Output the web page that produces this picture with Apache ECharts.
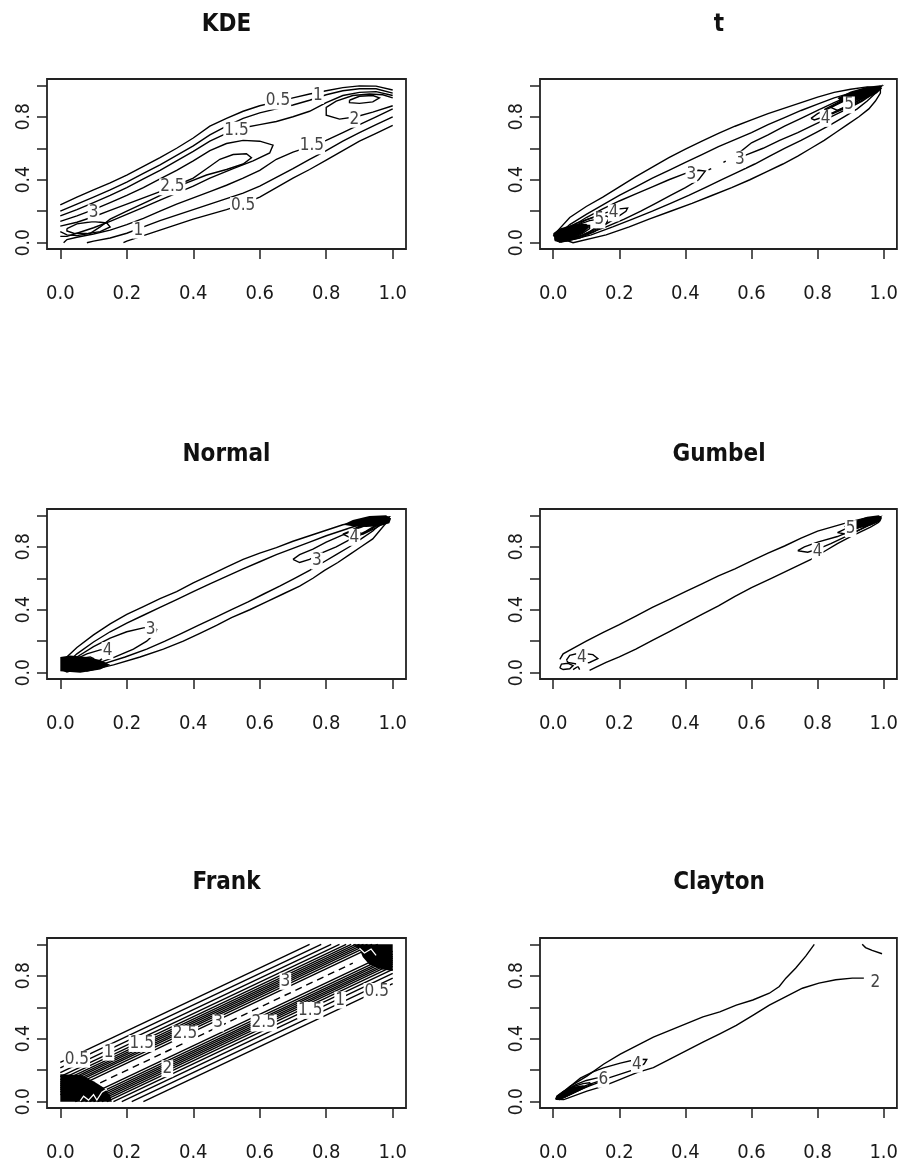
<!DOCTYPE html>
<html>
<head>
<meta charset="utf-8">
<script src="https://cdn.jsdelivr.net/npm/echarts@6.0.0/dist/echarts.min.js"></script>
<style>
  html, body { margin: 0; padding: 0; background: #fff; }
  #chart { width: 901px; height: 1169px; }
</style>
</head>
<body>
<div id="chart"></div>
<script>
const TITLES = ['KDE', 't', 'Normal', 'Gumbel', 'Frank', 'Clayton'];
const X_TICKS = [0, 0.2, 0.4, 0.6, 0.8, 1.0];
const Y_TICKS = [0, 0.2, 0.4, 0.6, 0.8, 1.0];
const Y_LABELS = [0, 0.4, 0.8];

// ---- KDE ----
const kdeLines = [
  [[0,0.24],[0.05,0.29],[0.1,0.335],[0.15,0.38],[0.2,0.43],[0.25,0.485],[0.3,0.54],[0.35,0.6],[0.4,0.665],[0.45,0.74],[0.5,0.79],[0.55,0.835],[0.6,0.87],[0.65,0.895],[0.7,0.92],[0.75,0.945],[0.8,0.965],[0.85,0.985],[0.9,0.996],[0.95,0.995],[1,0.97]],
  [[1,0.745],[0.95,0.695],[0.9,0.645],[0.85,0.585],[0.8,0.525],[0.75,0.465],[0.7,0.41],[0.65,0.35],[0.6,0.29],[0.55,0.245],[0.5,0.21],[0.45,0.18],[0.4,0.15],[0.35,0.115],[0.3,0.08],[0.25,0.045],[0.2,0.01],[0.19,0]],
  [[0,0.2],[0.05,0.245],[0.1,0.29],[0.15,0.335],[0.2,0.385],[0.25,0.44],[0.3,0.495],[0.35,0.555],[0.4,0.615],[0.45,0.685],[0.5,0.74],[0.55,0.79],[0.6,0.825],[0.65,0.85],[0.7,0.875],[0.75,0.905],[0.8,0.94],[0.85,0.965],[0.9,0.978],[0.95,0.978],[1,0.95]],
  [[1,0.8],[0.95,0.75],[0.9,0.7],[0.85,0.645],[0.8,0.585],[0.75,0.53],[0.7,0.47],[0.65,0.415],[0.6,0.36],[0.55,0.315],[0.5,0.28],[0.45,0.245],[0.4,0.21],[0.35,0.175],[0.3,0.14],[0.25,0.1],[0.2,0.06],[0.15,0.03],[0.1,0.01],[0.08,0]],
  [[0,0.17],[0.05,0.21],[0.1,0.255],[0.15,0.3],[0.2,0.35],[0.25,0.405],[0.3,0.46],[0.35,0.52],[0.4,0.58],[0.45,0.645],[0.5,0.695],[0.55,0.73],[0.6,0.75],[0.65,0.77],[0.7,0.8],[0.75,0.835],[0.8,0.89],[0.85,0.935],[0.9,0.955],[0.95,0.96],[1,0.935]],
  [[1,0.85],[0.95,0.8],[0.9,0.75],[0.85,0.7],[0.8,0.65],[0.75,0.61],[0.7,0.575],[0.65,0.53],[0.6,0.46],[0.55,0.41],[0.5,0.365],[0.45,0.325],[0.4,0.285],[0.35,0.245],[0.3,0.2],[0.25,0.155],[0.2,0.115],[0.15,0.08],[0.1,0.055],[0.05,0.035],[0.02,0.02],[0.01,0]],
  [[0,0.135],[0.05,0.17],[0.1,0.21],[0.15,0.255],[0.2,0.3],[0.25,0.35],[0.3,0.405],[0.35,0.46],[0.4,0.52],[0.45,0.585],[0.5,0.63],[0.55,0.65],[0.6,0.645],[0.64,0.62],[0.63,0.57],[0.58,0.52],[0.52,0.47],[0.45,0.41],[0.4,0.36],[0.35,0.315],[0.3,0.27],[0.25,0.225],[0.2,0.18],[0.15,0.135],[0.1,0.095],[0.05,0.06],[0.02,0.04],[0,0.04]],
  [[1,0.92],[0.97,0.94],[0.93,0.945],[0.88,0.935],[0.83,0.9],[0.8,0.86],[0.8,0.81],[0.84,0.785],[0.89,0.8],[0.94,0.83],[1,0.87]],
  [[0,0.105],[0.05,0.13],[0.1,0.165],[0.15,0.205],[0.2,0.245],[0.25,0.285],[0.3,0.325],[0.35,0.365],[0.4,0.41],[0.44,0.47],[0.48,0.53],[0.52,0.56],[0.56,0.565],[0.575,0.54],[0.55,0.5],[0.5,0.465],[0.44,0.43],[0.38,0.38],[0.32,0.32],[0.26,0.26],[0.2,0.2],[0.15,0.15],[0.12,0.1],[0.09,0.06],[0.05,0.045],[0.02,0.05],[0,0.07]],
  [[0.87,0.905],[0.9,0.93],[0.94,0.935],[0.96,0.92],[0.94,0.895],[0.9,0.885],[0.87,0.89],[0.87,0.905]],
  [[0.02,0.09],[0.05,0.12],[0.1,0.135],[0.14,0.125],[0.15,0.1],[0.12,0.07],[0.08,0.058],[0.04,0.06],[0.02,0.075],[0.02,0.09]]
];
const kdeLabels = [['0.5',0.655,0.9],['1',0.775,0.935],['1.5',0.53,0.715],['2',0.885,0.785],['1.5',0.757,0.615],['2.5',0.337,0.355],['3',0.1,0.19],['0.5',0.55,0.235],['1',0.235,0.08]];
const kdeBlobs = [];

// ---- t ----
const tLines = [
  [[0,0.045],[0.05,0.16],[0.1,0.23],[0.15,0.29],[0.2,0.355],[0.25,0.42],[0.3,0.48],[0.35,0.54],[0.4,0.595],[0.45,0.645],[0.5,0.695],[0.55,0.74],[0.6,0.78],[0.65,0.82],[0.7,0.855],[0.75,0.89],[0.8,0.925],[0.85,0.955],[0.9,0.975],[0.95,0.99],[0.99,0.985],[0.99,0.95],[0.975,0.9],[0.955,0.85],[0.925,0.8],[0.89,0.75],[0.855,0.7],[0.82,0.65],[0.78,0.6],[0.74,0.55],[0.695,0.5],[0.645,0.45],[0.595,0.4],[0.54,0.35],[0.48,0.3],[0.42,0.25],[0.355,0.2],[0.29,0.15],[0.23,0.1],[0.16,0.05],[0.06,0],[0,0.045]],
  [[0.01,0.04],[0.05,0.115],[0.1,0.18],[0.15,0.24],[0.2,0.3],[0.25,0.355],[0.3,0.41],[0.35,0.46],[0.4,0.51],[0.45,0.56],[0.5,0.61],[0.55,0.655],[0.6,0.7],[0.65,0.75],[0.7,0.795],[0.75,0.84],[0.8,0.88],[0.85,0.92],[0.9,0.95],[0.95,0.975],[0.985,0.98],[0.975,0.95],[0.95,0.9],[0.92,0.85],[0.88,0.8],[0.84,0.75],[0.795,0.7],[0.75,0.65],[0.7,0.6],[0.655,0.55],[0.61,0.5],[0.56,0.45],[0.51,0.4],[0.46,0.35],[0.41,0.3],[0.355,0.25],[0.3,0.2],[0.24,0.15],[0.18,0.1],[0.115,0.05],[0.04,0.01],[0.01,0.04]],
  [[0.02,0.05],[0.05,0.095],[0.1,0.16],[0.15,0.215],[0.2,0.265],[0.25,0.31],[0.3,0.355],[0.35,0.4],[0.4,0.44],[0.44,0.46],[0.46,0.455],[0.44,0.4],[0.4,0.35],[0.355,0.3],[0.31,0.25],[0.265,0.2],[0.215,0.15],[0.16,0.1],[0.095,0.05],[0.05,0.02],[0.02,0.05]],
  [[0.55,0.55],[0.6,0.635],[0.65,0.685],[0.7,0.74],[0.75,0.79],[0.8,0.84],[0.85,0.89],[0.9,0.935],[0.95,0.97],[0.98,0.985],[0.97,0.95],[0.935,0.9],[0.89,0.85],[0.84,0.8],[0.79,0.75],[0.74,0.7],[0.685,0.65],[0.635,0.6],[0.575,0.55],[0.55,0.55]],
  [[0.47,0.462],[0.478,0.47]],
  [[0.515,0.51],[0.522,0.518]],
  [[0.01,0.03],[0.05,0.09],[0.1,0.145],[0.15,0.185],[0.2,0.215],[0.225,0.22],[0.22,0.2],[0.185,0.15],[0.145,0.1],[0.09,0.05],[0.03,0.01],[0.01,0.03]],
  [[0.78,0.79],[0.8,0.82],[0.85,0.87],[0.9,0.92],[0.95,0.96],[0.98,0.98],[0.96,0.95],[0.92,0.9],[0.87,0.85],[0.82,0.8],[0.79,0.78],[0.78,0.79]],
  [[0.005,0.025],[0.03,0.08],[0.07,0.125],[0.12,0.16],[0.16,0.17],[0.17,0.16],[0.16,0.12],[0.125,0.07],[0.08,0.03],[0.025,0.005],[0.005,0.025]],
  [[0.005,0.02],[0.03,0.07],[0.07,0.11],[0.11,0.14],[0.14,0.15],[0.15,0.14],[0.14,0.11],[0.11,0.07],[0.07,0.03],[0.02,0.005],[0.005,0.02]],
  [[0.005,0.02],[0.03,0.06],[0.06,0.09],[0.09,0.11],[0.11,0.11],[0.11,0.09],[0.09,0.06],[0.06,0.03],[0.02,0.005],[0.005,0.02]],
  [[0.82,0.845],[0.86,0.89],[0.9,0.93],[0.95,0.965],[0.99,0.99],[0.965,0.95],[0.93,0.9],[0.89,0.86],[0.845,0.82],[0.82,0.845]],
  [[0.84,0.86],[0.88,0.905],[0.92,0.94],[0.96,0.97],[0.99,0.99],[0.97,0.96],[0.94,0.92],[0.905,0.88],[0.86,0.84],[0.84,0.86]],
  [[0.88,0.895],[0.92,0.93],[0.95,0.96],[0.985,0.99],[0.96,0.95],[0.93,0.92],[0.895,0.88],[0.88,0.895]]
];
const tLabels = [['3',0.418,0.435],['3',0.565,0.53],['4',0.183,0.19],['5',0.14,0.145],['4',0.824,0.79],['5',0.895,0.875]];
const tBlobs = [
  [[0.005,0.01],[0,0.06],[0.02,0.09],[0.06,0.115],[0.1,0.12],[0.11,0.1],[0.09,0.06],[0.06,0.03],[0.03,0.005]],
  [[0.86,0.92],[0.9,0.96],[0.95,0.99],[0.99,1],[0.995,0.98],[0.98,0.95],[0.95,0.92],[0.9,0.9],[0.87,0.9]]
];

// ---- Normal ----
const normalLines = [
  [[0.01,0.08],[0.05,0.16],[0.1,0.24],[0.15,0.31],[0.2,0.37],[0.25,0.42],[0.3,0.47],[0.35,0.515],[0.4,0.57],[0.45,0.62],[0.5,0.67],[0.55,0.72],[0.6,0.76],[0.65,0.795],[0.7,0.835],[0.75,0.87],[0.8,0.905],[0.85,0.94],[0.9,0.96],[0.95,0.98],[0.99,0.975],[0.98,0.95],[0.96,0.9],[0.94,0.85],[0.905,0.8],[0.87,0.75],[0.835,0.7],[0.795,0.65],[0.76,0.6],[0.72,0.55],[0.67,0.5],[0.62,0.45],[0.57,0.4],[0.515,0.35],[0.47,0.3],[0.42,0.25],[0.37,0.2],[0.31,0.15],[0.24,0.1],[0.16,0.05],[0.08,0.01],[0.01,0.08]],
  [[0.02,0.06],[0.05,0.12],[0.1,0.195],[0.15,0.26],[0.2,0.315],[0.25,0.365],[0.3,0.415],[0.35,0.465],[0.4,0.515],[0.45,0.565],[0.5,0.612],[0.55,0.66],[0.6,0.705],[0.65,0.75],[0.7,0.79],[0.75,0.83],[0.8,0.87],[0.85,0.905],[0.9,0.94],[0.95,0.965],[0.98,0.975],[0.965,0.95],[0.94,0.9],[0.905,0.85],[0.87,0.8],[0.83,0.75],[0.79,0.7],[0.75,0.65],[0.705,0.6],[0.66,0.55],[0.612,0.5],[0.565,0.45],[0.515,0.4],[0.465,0.35],[0.415,0.3],[0.365,0.25],[0.315,0.2],[0.26,0.15],[0.195,0.1],[0.12,0.05],[0.06,0.02],[0.02,0.06]],
  [[0.02,0.05],[0.05,0.1],[0.1,0.165],[0.15,0.22],[0.2,0.26],[0.25,0.285],[0.28,0.29],[0.29,0.275],[0.285,0.25],[0.26,0.2],[0.22,0.15],[0.165,0.1],[0.1,0.05],[0.05,0.02],[0.02,0.05]],
  [[0.7,0.72],[0.72,0.75],[0.76,0.785],[0.8,0.83],[0.85,0.875],[0.9,0.92],[0.95,0.96],[0.98,0.98],[0.96,0.95],[0.92,0.9],[0.875,0.85],[0.83,0.8],[0.785,0.76],[0.75,0.72],[0.72,0.7],[0.7,0.72]],
  [[0.01,0.03],[0.04,0.08],[0.08,0.12],[0.12,0.145],[0.15,0.15],[0.145,0.12],[0.12,0.08],[0.08,0.04],[0.03,0.01],[0.01,0.03]],
  [[0.85,0.88],[0.9,0.925],[0.95,0.965],[0.985,0.985],[0.965,0.95],[0.925,0.9],[0.88,0.85],[0.85,0.88]],
  [[0.005,0.02],[0.03,0.06],[0.06,0.09],[0.09,0.1],[0.1,0.09],[0.09,0.06],[0.06,0.03],[0.02,0.005],[0.005,0.02]],
  [[0.88,0.91],[0.92,0.95],[0.96,0.98],[0.99,0.99],[0.98,0.96],[0.95,0.92],[0.91,0.88],[0.88,0.91]]
];
const normalLabels = [['3',0.272,0.275],['3',0.772,0.71],['4',0.142,0.14],['4',0.885,0.86]];
const normalBlobs = [
  [[0,0.01],[0,0.1],[0.03,0.11],[0.08,0.1],[0.12,0.08],[0.15,0.05],[0.12,0.02],[0.06,0]],
  [[0.85,0.94],[0.88,0.97],[0.93,0.995],[0.98,1],[0.995,0.98],[0.99,0.95],[0.96,0.93],[0.92,0.925],[0.88,0.93]]
];

// ---- Gumbel ----
const gumbelLines = [
  [[0.02,0.085],[0.03,0.12],[0.06,0.155],[0.1,0.2],[0.15,0.255],[0.2,0.305],[0.25,0.36],[0.3,0.415],[0.35,0.465],[0.4,0.515],[0.45,0.565],[0.5,0.615],[0.55,0.66],[0.6,0.71],[0.65,0.76],[0.7,0.805],[0.75,0.855],[0.8,0.9],[0.85,0.93],[0.9,0.96],[0.95,0.985],[0.99,0.985],[0.985,0.955],[0.96,0.925],[0.93,0.895],[0.9,0.865],[0.86,0.82],[0.82,0.77],[0.78,0.72],[0.72,0.66],[0.66,0.6],[0.6,0.54],[0.55,0.485],[0.5,0.425],[0.45,0.37],[0.4,0.315],[0.35,0.26],[0.3,0.205],[0.25,0.15],[0.2,0.1],[0.16,0.065],[0.13,0.035],[0.11,0.015]],
  [[0.04,0.08],[0.05,0.11],[0.08,0.125],[0.12,0.115],[0.135,0.09],[0.11,0.065],[0.07,0.055],[0.045,0.065],[0.04,0.08]],
  [[0.02,0.03],[0.025,0.055],[0.045,0.06],[0.06,0.045],[0.05,0.025],[0.03,0.02],[0.02,0.03]],
  [[0.06,0.02],[0.075,0.04],[0.08,0.02]],
  [[0.74,0.775],[0.76,0.8],[0.8,0.83],[0.86,0.865],[0.9,0.9],[0.95,0.945],[0.98,0.97],[0.96,0.945],[0.92,0.9],[0.88,0.86],[0.84,0.82],[0.8,0.785],[0.77,0.765],[0.74,0.775]],
  [[0.86,0.89],[0.9,0.93],[0.95,0.97],[0.99,0.99],[0.97,0.95],[0.93,0.91],[0.89,0.88],[0.86,0.89]]
];
const gumbelLabels = [['4',0.087,0.095],['4',0.8,0.77],['5',0.9,0.915]];
const gumbelBlobs = [
  [[0.88,0.93],[0.91,0.96],[0.95,0.99],[0.985,1],[0.995,0.985],[0.99,0.96],[0.96,0.935],[0.92,0.915],[0.89,0.915]]
];

// ---- Frank ----
const frankLines = [
  [[0,0.25],[0.75,1]],
  [[0,0.215],[0.785,1]],
  [[0,0.185],[0.815,1]],
  [[0,0.16],[0.84,1]],
  [[0,0.14],[0.86,1]],
  [[0,0.125],[0.875,1]],
  [[0,0.112],[0.888,1]],
  [[0,0.1],[0.9,1]],
  [[0,0.088],[0.912,1]],
  [[0,0.076],[0.924,1]],
  [[0,0.062],[0.938,1]],
  [[0,0.045],[0.955,1]],
  [[0.25,0],[1,0.75]],
  [[0.215,0],[1,0.785]],
  [[0.185,0],[1,0.815]],
  [[0.16,0],[1,0.84]],
  [[0.14,0],[1,0.86]],
  [[0.125,0],[1,0.875]],
  [[0.112,0],[1,0.888]],
  [[0.1,0],[1,0.9]],
  [[0.088,0],[1,0.912]],
  [[0.076,0],[1,0.924]],
  [[0.062,0],[1,0.938]],
  [[0.045,0],[1,0.955]]
];
const frankDashed = [[[0.12,0.12],[0.88,0.88]]];
const frankWhite = [
  [[0.06,0.005],[0.07,0.035],[0.085,0.01],[0.1,0.045],[0.11,0.01],[0.125,0.06],[0.14,0.08]],
  [[0.9,0.975],[0.915,0.945],[0.935,0.97],[0.95,0.93]]
];
const frankLabels = [['0.5',0.05,0.27],['1',0.145,0.315],['1.5',0.245,0.37],['2.5',0.375,0.43],['3',0.475,0.5],['3',0.677,0.765],['2',0.322,0.21],['2.5',0.612,0.5],['1.5',0.752,0.58],['1',0.842,0.645],['0.5',0.952,0.7]];
const frankBlobs = [
  [[0,0],[0,0.175],[0.06,0.17],[0.1,0.13],[0.13,0.09],[0.15,0.04],[0.155,0]],
  [[1,1],[0.88,1],[0.9,0.97],[0.91,0.92],[0.93,0.87],[0.97,0.84],[1,0.83]]
];

// ---- Clayton ----
const claytonLines = [
  [[0.79,1],[0.764,0.925],[0.734,0.85],[0.704,0.785],[0.684,0.732],[0.654,0.689],[0.604,0.646],[0.554,0.614],[0.504,0.571],[0.453,0.539],[0.403,0.496],[0.353,0.453],[0.303,0.41],[0.253,0.356],[0.203,0.302],[0.152,0.238],[0.102,0.163],[0.052,0.099],[0.012,0.034],[0.01,0.015],[0.032,0.013],[0.102,0.067],[0.152,0.099],[0.203,0.142],[0.253,0.185],[0.303,0.217],[0.353,0.27],[0.403,0.324],[0.453,0.378],[0.504,0.431],[0.554,0.485],[0.604,0.549],[0.654,0.614],[0.704,0.667],[0.754,0.721],[0.804,0.753],[0.855,0.775],[0.905,0.785],[0.94,0.785]],
  [[0.935,1],[0.945,0.979],[0.965,0.961],[0.995,0.94]],
  [[0.02,0.035],[0.05,0.095],[0.082,0.15],[0.12,0.19],[0.152,0.215],[0.203,0.245],[0.253,0.27],[0.283,0.268],[0.275,0.24],[0.24,0.2],[0.203,0.175],[0.152,0.14],[0.102,0.105],[0.052,0.065],[0.03,0.03],[0.02,0.035]],
  [[0.015,0.03],[0.04,0.075],[0.07,0.11],[0.1,0.135],[0.13,0.15],[0.155,0.155],[0.16,0.145],[0.14,0.125],[0.11,0.1],[0.07,0.065],[0.035,0.03],[0.015,0.03]],
  [[0.01,0.02],[0.03,0.06],[0.06,0.095],[0.09,0.115],[0.11,0.12],[0.115,0.11],[0.09,0.085],[0.06,0.055],[0.03,0.025],[0.01,0.02]]
];
const claytonLabels = [['2',0.975,0.755],['4',0.253,0.238],['6',0.152,0.142]];
const claytonBlobs = [
  [[0.005,0.015],[0.01,0.04],[0.03,0.07],[0.06,0.095],[0.09,0.105],[0.1,0.095],[0.08,0.07],[0.05,0.04],[0.02,0.01]]
];

const PANELS = [
  { lines: kdeLines, labels: kdeLabels, blobs: kdeBlobs },
  { lines: tLines, labels: tLabels, blobs: tBlobs },
  { lines: normalLines, labels: normalLabels, blobs: normalBlobs },
  { lines: gumbelLines, labels: gumbelLabels, blobs: gumbelBlobs },
  { lines: frankLines, labels: frankLabels, blobs: frankBlobs, dashed: frankDashed, white: frankWhite },
  { lines: claytonLines, labels: claytonLabels, blobs: claytonBlobs }
];

// layout (px)
const COL_LEFT = [47, 540];
const COL_W = [359, 358];
const ROW_TOP = [79, 509, 938];
const PLOT_H = 170;
const TITLE_Y = [25, 455, 883];
const FONT = "'Liberation Sans Narrow', 'DejaVu Sans Condensed', 'Liberation Sans', sans-serif";
const INK = '#1a1a1a';

const grids = [], xAxes = [], yAxes = [], series = [], graphics = [];

PANELS.forEach((p, i) => {
  const col = i % 2, row = Math.floor(i / 2);
  grids.push({
    left: COL_LEFT[col], top: ROW_TOP[row], width: COL_W[col], height: PLOT_H,
    show: true, borderColor: '#222', borderWidth: 1.8, backgroundColor: '#fff'
  });
  xAxes.push({
    gridIndex: i, type: 'value', min: -0.04, max: 1.04,
    axisLine: { show: false, onZero: false },
    axisTick: { show: true, length: 10, customValues: X_TICKS, lineStyle: { color: '#222', width: 1.5 } },
    axisLabel: { customValues: X_TICKS, formatter: v => v.toFixed(1), margin: 35,
      fontSize: 20, fontFamily: FONT, color: INK },
    splitLine: { show: false }
  });
  yAxes.push({
    gridIndex: i, type: 'value', min: -0.04, max: 1.04,
    axisLine: { show: false, onZero: false },
    axisTick: { show: true, length: 10, customValues: Y_TICKS, lineStyle: { color: '#222', width: 1.5 } },
    axisLabel: { customValues: Y_LABELS, formatter: v => v.toFixed(1), rotate: 90, margin: 13,
      fontSize: 19, fontFamily: FONT, color: INK },
    splitLine: { show: false }
  });

  const blobs = p.blobs;
  if (blobs.length) {
    series.push({
      type: 'custom', xAxisIndex: i, yAxisIndex: i, z: 2, silent: true, clip: false,
      data: blobs.map((b, k) => [b[0][0], b[0][1], k]),
      encode: { x: 0, y: 1 },
      renderItem: (params, api) => ({
        type: 'polygon',
        shape: { points: blobs[params.dataIndex].map(pt => api.coord(pt)) },
        style: { fill: '#000' }
      })
    });
  }
  series.push({
    type: 'lines', coordinateSystem: 'cartesian2d', xAxisIndex: i, yAxisIndex: i,
    polyline: true, silent: true, z: 3,
    lineStyle: { color: '#000', width: 1.4, opacity: 1 },
    data: p.lines.map(c => ({ coords: c }))
  });
  if (p.dashed) {
    series.push({
      type: 'lines', coordinateSystem: 'cartesian2d', xAxisIndex: i, yAxisIndex: i,
      polyline: true, silent: true, z: 3,
      lineStyle: { color: '#000', width: 1.4, opacity: 1, type: [7, 5] },
      data: p.dashed.map(c => ({ coords: c }))
    });
  }
  if (p.white) {
    series.push({
      type: 'lines', coordinateSystem: 'cartesian2d', xAxisIndex: i, yAxisIndex: i,
      polyline: true, silent: true, z: 4,
      lineStyle: { color: '#fff', width: 1.3, opacity: 1 },
      data: p.white.map(c => ({ coords: c }))
    });
  }
  series.push({
    type: 'scatter', xAxisIndex: i, yAxisIndex: i, zlevel: 1, z: 5, silent: true,
    symbol: 'circle', symbolSize: 1, itemStyle: { color: 'transparent' },
    data: p.labels.map(l => ({ name: l[0], value: [l[1], l[2]] })),
    label: {
      show: true, position: 'inside', formatter: '{b}',
      fontSize: 17, fontFamily: FONT, color: '#444',
      backgroundColor: '#fff', padding: [0, 1], opacity: 1
    }
  });

  graphics.push({
    type: 'text', x: COL_LEFT[col] + COL_W[col] / 2, y: TITLE_Y[row], z: 10,
    style: {
      text: TITLES[i], fill: '#111', font: `bold 24px ${FONT}`,
      align: 'center', verticalAlign: 'middle', textAlign: 'center', textVerticalAlign: 'middle'
    }
  });
});

const chart = echarts.init(document.getElementById('chart'), null, { renderer: 'canvas' });
chart.setOption({
  animation: false,
  backgroundColor: '#fff',
  grid: grids,
  xAxis: xAxes,
  yAxis: yAxes,
  series: series,
  graphic: graphics
});
</script>
</body>
</html>
